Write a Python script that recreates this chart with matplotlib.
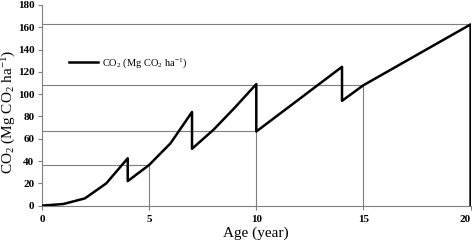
import matplotlib.pyplot as plt

plt.rcParams['font.family'] = ['Liberation Serif', 'DejaVu Serif']
plt.rcParams['mathtext.fontset'] = 'custom'
plt.rcParams['mathtext.rm'] = 'Liberation Serif'
plt.rcParams['mathtext.it'] = 'Liberation Serif:italic'
plt.rcParams['mathtext.bf'] = 'Liberation Serif:bold'

# series (age in years, CO2 in Mg CO2 / ha)
age = [0, 1, 2, 3, 4, 4, 5, 6, 7, 7, 8, 9, 10, 10, 14, 14, 15, 20, 20]
co2 = [0, 1.5, 6.5, 20, 42.5, 22, 36.5, 56, 84, 51, 68, 88, 109, 66.5, 124.5, 94, 108, 162.5, 0]

# reference (drop) lines
ref_age = [5, 10, 15, 20]
ref_co2 = [36.5, 66.5, 108, 162.5]

xticks = [0, 5, 10, 15, 20]
yticks = list(range(0, 181, 20))

fig = plt.figure(figsize=(4.72, 2.46), dpi=100)
ax = fig.add_axes([0.089, 0.164, 0.908, 0.816])

grey = '#7f7f7f'
for xa, yc in zip(ref_age, ref_co2):
    ax.plot([0, xa], [yc, yc], color=grey, lw=0.8, zorder=1)
    ax.plot([xa, xa], [0, yc], color=grey, lw=0.8, zorder=1)

ax.plot(age, co2, color='black', lw=1.8, zorder=3,
        label='CO$_2$ (Mg CO$_2$ ha$^{-1}$)')

ax.set_xlim(0, 20)
ax.set_ylim(0, 180)
ax.set_xticks(xticks)
ax.set_yticks(yticks)
for s in ['top', 'right']:
    ax.spines[s].set_visible(False)
for s in ['left', 'bottom']:
    ax.spines[s].set_color(grey)
    ax.spines[s].set_linewidth(0.8)
ax.tick_params(axis='both', colors=grey, length=3, width=0.8, labelcolor='black', labelsize=8)
ax.tick_params(axis='y', pad=2.5)
for lab in ax.get_xticklabels() + ax.get_yticklabels():
    lab.set_fontweight('bold')
ax.get_xticklabels()[-1].set_horizontalalignment('right')

ax.set_xlabel('Age (year)', fontsize=11, labelpad=2)
ax.set_ylabel('CO$_2$ (Mg CO$_2$ ha$^{-1}$)', fontsize=11)
ax.yaxis.set_label_coords(-0.055, 0.47)

ax.legend(loc='upper left', bbox_to_anchor=(0.04, 0.79), frameon=False,
          fontsize=7.5, handlelength=2.8, handletextpad=0.4)

plt.savefig('out.png', dpi=100)
